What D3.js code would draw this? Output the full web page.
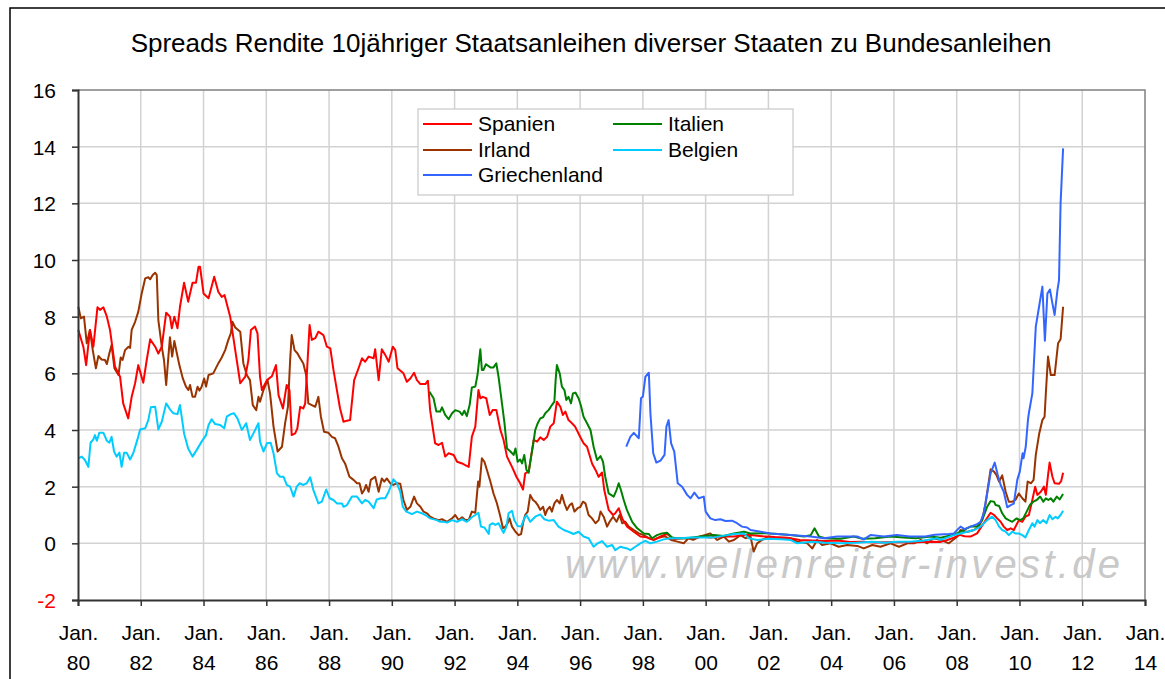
<!DOCTYPE html>
<html><head><meta charset="utf-8">
<script src="https://cdn.jsdelivr.net/npm/d3@7"></script>
<style>body{margin:0;background:#fff} svg{display:block} text{font-family:"Liberation Sans",Arial,sans-serif}</style>
</head><body><svg id="c" width="1165" height="679"></svg>
<script>
const title = "Spreads Rendite 10jähriger Staatsanleihen diverser Staaten zu Bundesanleihen";
const watermark = "www.wellenreiter-invest.de";
const yTickValues = [-2,0,2,4,6,8,10,12,14,16];
const xTickYears = [1980,1982,1984,1986,1988,1990,1992,1994,1996,1998,2000,2002,2004,2006,2008,2010,2012,2014];
const xTickLabels = ["80","82","84","86","88","90","92","94","96","98","00","02","04","06","08","10","12","14"];
const seriesNames = ["Spanien","Italien","Irland","Belgien","Griechenland"];
const seriesColors = ["#ff0000","#008000","#993300","#00ccff","#3366ff"];

// [decimal year, spread in %-points]
const spanien = [[1980.01,7.53],[1980.17,6.94],[1980.26,6.29],[1980.38,7.53],[1980.49,6.94],[1980.62,8.33],[1980.70,8.24],[1980.81,8.33],[1980.92,8.0],[1981.02,7.53],[1981.18,6.23],[1981.34,5.88],[1981.44,4.94],[1981.60,4.41],[1981.71,5.17],[1981.82,5.65],[1981.92,6.29],[1982.08,5.67],[1982.19,6.47],[1982.30,7.2],[1982.46,6.94],[1982.56,6.7],[1982.67,6.94],[1982.81,8.14],[1982.93,8.0],[1982.99,7.59],[1983.07,8.0],[1983.17,7.59],[1983.25,8.35],[1983.38,9.2],[1983.51,8.53],[1983.65,9.2],[1983.76,9.2],[1983.84,9.76],[1983.89,9.76],[1984.0,8.82],[1984.16,8.65],[1984.34,9.41],[1984.47,8.88],[1984.58,8.7],[1984.67,8.76],[1984.85,8.0],[1985.01,6.82],[1985.17,5.65],[1985.33,5.88],[1985.43,6.47],[1985.51,7.53],[1985.64,7.65],[1985.72,7.41],[1985.80,5.88],[1985.86,5.41],[1986.02,5.76],[1986.18,5.9],[1986.31,6.29],[1986.39,5.23],[1986.53,4.76],[1986.65,5.59],[1986.74,5.4],[1986.81,3.82],[1986.92,3.88],[1986.99,4.06],[1987.08,4.82],[1987.18,4.76],[1987.24,4.94],[1987.38,7.71],[1987.45,7.18],[1987.56,7.24],[1987.66,7.47],[1987.82,7.35],[1987.93,6.94],[1988.04,6.88],[1988.14,6.12],[1988.25,5.41],[1988.35,4.76],[1988.46,4.29],[1988.57,4.33],[1988.67,4.35],[1988.80,5.76],[1988.94,6.18],[1989.05,6.53],[1989.15,6.41],[1989.26,6.59],[1989.42,6.53],[1989.47,6.85],[1989.58,5.76],[1989.68,6.85],[1989.79,6.65],[1989.90,6.41],[1990.03,6.94],[1990.11,6.82],[1990.18,6.18],[1990.37,6.0],[1990.48,5.7],[1990.59,5.82],[1990.71,6.02],[1990.80,5.76],[1990.91,5.62],[1991.07,5.62],[1991.15,5.74],[1991.22,4.7],[1991.38,3.53],[1991.49,3.47],[1991.60,3.55],[1991.70,3.06],[1991.81,3.18],[1991.97,3.12],[1992.08,2.88],[1992.24,2.82],[1992.34,2.76],[1992.45,2.7],[1992.55,3.76],[1992.66,4.12],[1992.76,5.41],[1992.82,5.12],[1992.90,5.17],[1993.01,5.12],[1993.12,4.53],[1993.22,4.71],[1993.33,4.71],[1993.46,4.0],[1993.56,3.65],[1993.67,3.06],[1993.83,2.7],[1993.97,2.35],[1994.09,2.12],[1994.18,1.9],[1994.25,2.47],[1994.36,2.53],[1994.47,3.29],[1994.52,3.65],[1994.63,3.59],[1994.73,3.74],[1994.84,3.65],[1994.95,3.76],[1995.05,4.12],[1995.16,4.24],[1995.26,5.0],[1995.37,4.82],[1995.45,4.53],[1995.53,4.65],[1995.63,4.35],[1995.74,4.24],[1995.84,4.12],[1996.0,3.76],[1996.11,3.53],[1996.22,3.41],[1996.38,2.82],[1996.49,2.59],[1996.59,2.35],[1996.70,2.5],[1996.77,1.88],[1996.91,1.18],[1997.05,1.0],[1997.12,1.06],[1997.23,1.24],[1997.34,0.88],[1997.50,0.59],[1997.71,0.41],[1997.92,0.24],[1998.13,0.21],[1998.35,0.12],[1998.56,0.24],[1998.77,0.33],[1998.98,0.15],[1999.30,0.18],[1999.62,0.18],[1999.83,0.24],[2000.15,0.21],[2000.47,0.24],[2000.90,0.24],[2001.21,0.29],[2001.43,0.29],[2001.8,0.25],[2002.2,0.22],[2002.6,0.2],[2003.0,0.12],[2003.4,0.1],[2003.8,0.08],[2004.2,0.1],[2004.6,0.05],[2005.0,0.06],[2005.4,0.03],[2005.8,0.04],[2006.2,0.05],[2006.6,0.03],[2006.9,0.05],[2007.2,0.06],[2007.49,0.05],[2007.7,0.12],[2007.91,0.2],[2008.1,0.3],[2008.25,0.25],[2008.44,0.24],[2008.65,0.35],[2008.86,0.71],[2009.08,1.08],[2009.19,1.0],[2009.29,0.88],[2009.40,0.76],[2009.50,0.59],[2009.61,0.47],[2009.72,0.53],[2009.82,0.47],[2009.98,0.82],[2010.09,0.76],[2010.19,0.94],[2010.30,1.0],[2010.41,1.53],[2010.50,2.0],[2010.57,1.71],[2010.68,1.82],[2010.78,2.0],[2010.84,1.71],[2010.91,2.41],[2010.96,2.85],[2011.05,2.35],[2011.12,2.12],[2011.26,2.1],[2011.33,2.2],[2011.39,2.49]];

const italien = [[1991.20,5.35],[1991.33,5.12],[1991.42,4.65],[1991.54,4.65],[1991.60,4.8],[1991.70,4.53],[1991.81,4.38],[1991.92,4.59],[1992.02,4.7],[1992.16,4.65],[1992.24,4.53],[1992.31,4.68],[1992.39,4.49],[1992.48,4.88],[1992.55,5.5],[1992.66,5.53],[1992.73,5.94],[1992.82,6.85],[1992.87,6.12],[1992.92,6.12],[1993.0,6.32],[1993.14,6.21],[1993.24,6.21],[1993.33,6.35],[1993.40,5.88],[1993.51,4.94],[1993.59,4.24],[1993.67,3.35],[1993.78,3.24],[1993.88,3.12],[1993.94,3.35],[1994.01,2.88],[1994.09,2.96],[1994.15,2.82],[1994.22,3.12],[1994.29,2.59],[1994.36,2.49],[1994.43,3.0],[1994.50,3.47],[1994.57,4.0],[1994.65,4.24],[1994.73,4.41],[1994.82,4.45],[1994.89,4.59],[1995.0,4.71],[1995.10,4.88],[1995.18,5.0],[1995.22,5.76],[1995.26,6.29],[1995.35,6.0],[1995.42,5.53],[1995.50,5.41],[1995.56,5.06],[1995.63,5.17],[1995.71,4.94],[1995.77,5.29],[1995.85,5.32],[1995.95,5.12],[1996.02,4.88],[1996.11,4.47],[1996.22,4.24],[1996.33,4.0],[1996.43,3.41],[1996.54,2.94],[1996.65,3.08],[1996.73,2.88],[1996.80,2.35],[1996.91,1.76],[1997.07,1.65],[1997.16,1.88],[1997.23,2.12],[1997.30,1.88],[1997.39,1.53],[1997.49,1.18],[1997.66,0.76],[1997.82,0.53],[1998.03,0.35],[1998.19,0.33],[1998.29,0.18],[1998.45,0.29],[1998.61,0.35],[1998.77,0.37],[1998.93,0.21],[1999.09,0.18],[1999.41,0.18],[1999.83,0.24],[2000.26,0.29],[2000.58,0.26],[2000.90,0.35],[2001.22,0.41],[2001.43,0.35],[2001.9,0.36],[2002.3,0.33],[2002.70,0.29],[2003.13,0.24],[2003.35,0.29],[2003.47,0.53],[2003.61,0.24],[2003.81,0.18],[2004.3,0.16],[2004.72,0.24],[2005.0,0.16],[2005.4,0.18],[2005.89,0.24],[2006.3,0.21],[2006.7,0.18],[2007.17,0.24],[2007.49,0.2],[2007.91,0.3],[2008.12,0.41],[2008.44,0.59],[2008.65,0.59],[2008.81,0.82],[2008.97,1.29],[2009.08,1.49],[2009.19,1.47],[2009.24,1.35],[2009.35,1.32],[2009.45,1.06],[2009.56,0.88],[2009.66,0.82],[2009.77,0.76],[2009.91,0.88],[2010.02,0.82],[2010.12,0.88],[2010.23,1.12],[2010.33,1.35],[2010.44,1.47],[2010.55,1.53],[2010.66,1.65],[2010.76,1.47],[2010.84,1.59],[2010.92,1.53],[2011.0,1.59],[2011.08,1.47],[2011.19,1.65],[2011.28,1.55],[2011.39,1.74]];

const irland = [[1980.01,8.35],[1980.09,7.94],[1980.19,8.0],[1980.28,7.06],[1980.38,7.53],[1980.47,6.82],[1980.57,6.18],[1980.65,6.61],[1980.75,6.49],[1980.86,6.47],[1980.92,6.33],[1981.0,6.71],[1981.07,7.0],[1981.16,6.18],[1981.29,5.94],[1981.36,6.56],[1981.42,6.47],[1981.50,6.82],[1981.61,6.94],[1981.66,6.9],[1981.71,7.53],[1981.82,7.82],[1981.92,8.17],[1982.03,8.82],[1982.14,9.35],[1982.24,9.39],[1982.30,9.32],[1982.38,9.47],[1982.46,9.55],[1982.51,9.47],[1982.56,7.88],[1982.67,6.94],[1982.74,6.47],[1982.81,5.59],[1982.88,6.59],[1982.93,7.27],[1983.0,6.59],[1983.07,7.14],[1983.15,6.71],[1983.23,6.29],[1983.34,5.82],[1983.44,5.53],[1983.52,5.41],[1983.57,5.59],[1983.65,5.17],[1983.73,5.17],[1983.81,5.53],[1983.87,5.39],[1983.94,5.53],[1984.02,5.82],[1984.08,5.53],[1984.16,5.94],[1984.31,6.0],[1984.47,6.35],[1984.58,6.56],[1984.69,6.82],[1984.79,7.18],[1984.87,7.41],[1984.92,7.82],[1985.01,7.62],[1985.17,7.47],[1985.27,6.35],[1985.38,5.94],[1985.48,5.76],[1985.57,4.88],[1985.68,4.7],[1985.75,5.17],[1985.80,5.0],[1985.91,5.41],[1986.04,5.76],[1986.12,5.29],[1986.23,4.12],[1986.36,3.24],[1986.50,3.41],[1986.60,4.24],[1986.69,4.82],[1986.76,6.47],[1986.81,7.35],[1986.90,6.82],[1986.99,6.71],[1987.08,6.53],[1987.18,6.35],[1987.27,5.94],[1987.34,4.94],[1987.45,4.88],[1987.56,4.82],[1987.66,5.17],[1987.74,4.47],[1987.84,3.94],[1987.98,3.9],[1988.09,3.76],[1988.19,3.71],[1988.30,3.41],[1988.41,3.0],[1988.51,2.82],[1988.65,2.35],[1988.78,2.24],[1988.89,2.12],[1988.97,2.12],[1989.05,1.76],[1989.12,1.88],[1989.18,2.06],[1989.26,1.82],[1989.33,2.24],[1989.47,2.35],[1989.58,1.82],[1989.68,2.29],[1989.76,2.18],[1989.84,2.29],[1989.95,2.12],[1990.05,2.06],[1990.16,2.12],[1990.27,2.1],[1990.37,1.53],[1990.48,1.18],[1990.59,1.29],[1990.71,1.65],[1990.80,1.41],[1990.91,1.29],[1991.01,1.12],[1991.12,1.06],[1991.22,0.94],[1991.33,0.88],[1991.49,0.82],[1991.60,0.85],[1991.76,0.76],[1991.92,0.88],[1992.02,1.0],[1992.13,0.82],[1992.24,0.92],[1992.34,0.82],[1992.45,0.82],[1992.55,1.12],[1992.66,1.08],[1992.75,2.18],[1992.79,2.0],[1992.87,3.0],[1992.95,2.88],[1993.03,2.59],[1993.14,2.18],[1993.24,1.76],[1993.35,1.41],[1993.46,0.94],[1993.54,0.53],[1993.62,0.59],[1993.69,0.71],[1993.75,0.88],[1993.83,0.59],[1993.94,0.41],[1994.04,0.29],[1994.12,0.33],[1994.18,0.71],[1994.25,1.0],[1994.33,1.12],[1994.41,1.71],[1994.50,1.53],[1994.57,1.47],[1994.65,1.35],[1994.73,1.18],[1994.82,1.29],[1994.89,1.0],[1994.95,1.18],[1995.03,1.29],[1995.10,1.12],[1995.18,1.41],[1995.26,1.53],[1995.35,1.41],[1995.42,1.71],[1995.50,1.41],[1995.58,1.18],[1995.67,1.35],[1995.74,1.41],[1995.82,1.12],[1995.92,1.24],[1996.01,1.29],[1996.09,1.47],[1996.17,1.41],[1996.27,1.0],[1996.38,0.88],[1996.49,0.71],[1996.59,0.82],[1996.65,1.12],[1996.75,0.94],[1996.86,0.59],[1996.94,0.76],[1997.05,0.94],[1997.16,0.76],[1997.26,1.0],[1997.34,0.71],[1997.44,0.76],[1997.55,0.59],[1997.71,0.47],[1997.87,0.35],[1998.03,0.29],[1998.19,0.18],[1998.35,0.12],[1998.5,0.2],[1998.7,0.25],[1998.9,0.12],[1999.1,0.06],[1999.3,0.0],[1999.45,0.18],[1999.6,0.12],[1999.83,0.24],[2000.15,0.35],[2000.37,0.12],[2000.58,0.24],[2000.74,0.06],[2000.90,0.12],[2001.11,0.29],[2001.27,0.18],[2001.43,0.24],[2001.53,-0.29],[2001.64,0.0],[2001.80,0.12],[2002.01,0.24],[2002.28,0.18],[2002.70,0.18],[2002.92,0.06],[2003.24,0.0],[2003.40,-0.18],[2003.55,0.12],[2003.71,-0.06],[2003.98,0.0],[2004.24,-0.12],[2004.51,-0.06],[2004.83,-0.09],[2005.04,-0.18],[2005.31,-0.06],[2005.57,-0.12],[2005.89,0.0],[2006.16,-0.12],[2006.43,0.0],[2006.64,0.0],[2006.85,0.12],[2007.06,0.0],[2007.27,0.18],[2007.49,0.12],[2007.75,0.0],[2008.02,0.24],[2008.12,0.47],[2008.33,0.4],[2008.55,0.47],[2008.70,0.59],[2008.81,0.82],[2008.92,1.41],[2009.08,2.61],[2009.19,2.53],[2009.27,2.41],[2009.35,2.18],[2009.45,2.4],[2009.56,1.82],[2009.66,1.47],[2009.77,1.47],[2009.87,1.53],[2009.98,1.76],[2010.09,1.59],[2010.19,1.47],[2010.26,2.18],[2010.37,2.12],[2010.45,2.24],[2010.52,3.12],[2010.63,3.88],[2010.73,4.35],[2010.80,4.47],[2010.84,5.29],[2010.91,6.59],[2011.0,5.94],[2011.12,5.94],[2011.23,7.06],[2011.31,7.2],[2011.39,8.35]];

const belgien = [[1980.01,3.0],[1980.12,3.06],[1980.22,2.94],[1980.33,2.7],[1980.40,3.55],[1980.49,3.67],[1980.54,3.82],[1980.60,3.62],[1980.68,3.9],[1980.81,3.9],[1980.92,3.62],[1981.0,3.55],[1981.07,3.76],[1981.15,3.24],[1981.23,3.06],[1981.32,3.2],[1981.39,2.7],[1981.47,3.2],[1981.55,3.2],[1981.66,2.96],[1981.76,3.18],[1981.89,3.65],[1981.98,4.02],[1982.14,4.06],[1982.24,4.35],[1982.32,4.8],[1982.46,4.82],[1982.56,4.02],[1982.67,4.29],[1982.81,4.94],[1982.93,4.73],[1983.04,4.59],[1983.17,4.56],[1983.25,4.88],[1983.38,3.88],[1983.51,3.35],[1983.65,3.06],[1983.78,3.29],[1983.94,3.59],[1984.08,3.82],[1984.16,4.18],[1984.26,4.38],[1984.37,4.21],[1984.53,4.18],[1984.66,4.06],[1984.74,4.47],[1984.87,4.56],[1984.97,4.59],[1985.08,4.41],[1985.22,4.0],[1985.36,4.24],[1985.48,3.65],[1985.59,3.88],[1985.75,4.24],[1985.80,3.59],[1985.91,3.24],[1986.02,3.53],[1986.14,3.55],[1986.23,3.18],[1986.34,2.47],[1986.44,2.35],[1986.55,2.35],[1986.65,2.06],[1986.76,2.0],[1986.87,1.65],[1986.97,2.0],[1987.06,2.12],[1987.18,2.06],[1987.29,2.12],[1987.40,2.33],[1987.50,1.88],[1987.66,1.41],[1987.77,1.47],[1987.91,1.9],[1988.02,1.59],[1988.14,1.53],[1988.25,1.41],[1988.41,1.41],[1988.46,1.29],[1988.57,1.35],[1988.73,1.65],[1988.89,1.65],[1989.05,1.41],[1989.15,1.53],[1989.26,1.47],[1989.42,1.24],[1989.52,1.55],[1989.65,1.59],[1989.79,1.59],[1989.90,1.82],[1990.05,2.26],[1990.16,2.12],[1990.27,1.82],[1990.35,1.29],[1990.46,1.12],[1990.59,1.06],[1990.64,1.03],[1990.80,1.12],[1990.96,1.06],[1991.07,1.0],[1991.22,0.88],[1991.43,0.82],[1991.54,0.76],[1991.65,0.76],[1991.76,0.73],[1991.92,0.82],[1992.08,0.76],[1992.24,0.85],[1992.39,0.76],[1992.55,0.92],[1992.66,1.0],[1992.76,1.08],[1992.84,0.59],[1992.95,0.56],[1993.09,0.33],[1993.12,0.65],[1993.22,0.71],[1993.30,0.65],[1993.40,0.71],[1993.51,0.47],[1993.56,0.37],[1993.65,0.59],[1993.72,1.06],[1993.83,1.15],[1993.90,0.82],[1994.01,0.61],[1994.12,0.59],[1994.22,0.88],[1994.29,1.0],[1994.41,0.76],[1994.57,0.94],[1994.73,1.02],[1994.86,0.85],[1994.99,0.8],[1995.16,0.82],[1995.31,0.59],[1995.48,0.47],[1995.63,0.41],[1995.79,0.33],[1995.95,0.41],[1996.11,0.24],[1996.27,0.18],[1996.43,-0.12],[1996.56,0.0],[1996.70,0.08],[1996.86,-0.12],[1997.02,-0.06],[1997.12,-0.24],[1997.28,-0.12],[1997.50,-0.18],[1997.60,-0.24],[1997.76,-0.12],[1997.92,0.0],[1998.08,0.09],[1998.24,0.0],[1998.45,0.06],[1998.66,0.14],[1998.88,0.18],[1999.20,0.18],[1999.52,0.21],[1999.83,0.21],[2000.26,0.21],[2000.68,0.29],[2000.90,0.33],[2001.22,0.35],[2001.37,0.18],[2001.64,0.12],[2002.0,0.16],[2002.4,0.14],[2002.70,0.12],[2002.92,0.0],[2003.4,0.06],[2003.8,0.02],[2004.3,0.0],[2004.8,0.02],[2005.3,0.06],[2005.7,0.02],[2006.1,0.06],[2006.5,0.06],[2006.9,0.09],[2007.38,0.18],[2007.49,0.12],[2007.91,0.29],[2008.12,0.35],[2008.55,0.47],[2008.76,0.59],[2008.97,0.82],[2009.13,0.94],[2009.24,0.82],[2009.35,0.59],[2009.45,0.47],[2009.56,0.41],[2009.66,0.29],[2009.77,0.41],[2009.87,0.35],[2009.98,0.35],[2010.09,0.29],[2010.19,0.21],[2010.30,0.47],[2010.41,0.71],[2010.48,0.59],[2010.57,0.82],[2010.65,0.71],[2010.76,0.82],[2010.86,0.71],[2010.96,1.0],[2011.05,0.85],[2011.15,0.94],[2011.22,0.88],[2011.31,1.0],[2011.39,1.15]];

const griechenland = [[1997.47,3.41],[1997.60,3.76],[1997.71,3.9],[1997.87,3.71],[1997.94,5.12],[1998.0,5.18],[1998.08,5.88],[1998.19,6.02],[1998.24,4.59],[1998.33,3.18],[1998.43,2.85],[1998.56,2.92],[1998.69,3.12],[1998.75,4.12],[1998.82,4.35],[1998.90,3.53],[1999.0,3.24],[1999.11,2.12],[1999.25,2.0],[1999.41,1.71],[1999.52,1.59],[1999.64,1.79],[1999.78,1.59],[1999.94,1.65],[2000.0,1.12],[2000.15,0.88],[2000.31,0.82],[2000.47,0.85],[2000.63,0.79],[2000.84,0.8],[2001.0,0.71],[2001.16,0.59],[2001.32,0.56],[2001.43,0.47],[2001.75,0.41],[2002.07,0.35],[2002.70,0.29],[2003.34,0.24],[2003.77,0.18],[2004.19,0.24],[2004.83,0.24],[2005.04,0.14],[2005.25,0.29],[2005.68,0.24],[2006.09,0.29],[2006.5,0.24],[2007.0,0.24],[2007.3,0.3],[2007.75,0.33],[2007.91,0.35],[2008.12,0.59],[2008.25,0.5],[2008.44,0.59],[2008.65,0.68],[2008.76,0.76],[2008.86,1.06],[2008.97,1.76],[2009.08,2.47],[2009.21,2.85],[2009.31,2.41],[2009.40,2.06],[2009.50,1.82],[2009.61,1.27],[2009.72,1.35],[2009.82,1.4],[2009.93,2.24],[2010.01,2.53],[2010.10,3.18],[2010.13,3.0],[2010.20,3.41],[2010.27,4.35],[2010.30,4.6],[2010.41,5.29],[2010.52,7.65],[2010.59,8.12],[2010.73,9.06],[2010.81,7.15],[2010.89,8.82],[2010.97,8.96],[2011.05,8.47],[2011.12,8.06],[2011.21,8.94],[2011.26,9.29],[2011.31,12.0],[2011.39,13.94]];

const seriesData = [spanien, italien, irland, belgien, griechenland];

const W = 1165, H = 679;
const P = {l: 78, r: 1145, t: 90, b: 600};
const svg = d3.select('#c');
svg.append('rect').attr('width', W).attr('height', H).attr('fill', '#fff');
svg.append('rect').attr('x', 10).attr('y', 8).attr('width', 1300).attr('height', 900)
  .attr('fill', 'none').attr('stroke', '#000').attr('stroke-width', 1.5);

const x = d3.scaleLinear().domain([1980, 2014]).range([P.l, P.r]);
const y = d3.scaleLinear().domain([-2, 16]).range([P.b, P.t]);

// grid
const grid = svg.append('g');
grid.selectAll('line.h').data(yTickValues.filter(v => v > -2 && v < 16)).join('line')
  .attr('x1', P.l).attr('x2', P.r).attr('y1', d => y(d)).attr('y2', d => y(d))
  .attr('stroke', '#d2d2d2').attr('stroke-width', 1.5);
grid.selectAll('line.v').data(xTickYears.filter(v => v > 1980 && v < 2014)).join('line')
  .attr('y1', P.t).attr('y2', P.b).attr('x1', d => x(d)).attr('x2', d => x(d))
  .attr('stroke', '#d2d2d2').attr('stroke-width', 1.5);
// top & right border
svg.append('path').attr('d', `M${P.l},${P.t}H${P.r}V${P.b}`).attr('fill', 'none')
  .attr('stroke', '#808080').attr('stroke-width', 1.5);

// watermark
svg.append('text').attr('x', 565).attr('y', 578).text(watermark)
  .attr('font-size', 40).attr('font-style', 'italic').attr('fill', '#c9c9c9')
  .attr('textLength', 555).attr('lengthAdjust', 'spacing');

// lines
const line = d3.line().x(d => x(d[0])).y(d => y(d[1]));
const order = [2, 0, 1, 3, 4];
svg.append('g').selectAll('path').data(order).join('path')
  .attr('d', i => line(seriesData[i])).attr('fill', 'none')
  .attr('stroke', i => seriesColors[i]).attr('stroke-width', 2)
  .attr('stroke-linejoin', 'round');

// axes
const yAxis = d3.axisLeft(y).tickValues(yTickValues).tickSize(6).tickFormat(d => String(d));
const ya = svg.append('g').attr('transform', `translate(${P.l},0)`).call(yAxis);
ya.select('.domain').attr('stroke', '#333').attr('stroke-width', 2);
ya.selectAll('.tick line').attr('stroke', '#333').attr('stroke-width', 1.5);
ya.selectAll('.tick text').attr('font-size', 21).attr('x', -22).attr('dy', '0.35em')
  .attr('font-family', '"Liberation Sans", Arial, sans-serif')
  .attr('fill', d => d < 0 ? '#ff0000' : '#000');

const xAxis = d3.axisBottom(x).tickValues(xTickYears).tickSize(6).tickFormat('');
const xa = svg.append('g').attr('transform', `translate(0,${P.b})`).call(xAxis);
xa.select('.domain').attr('stroke', '#333').attr('stroke-width', 2);
xa.selectAll('.tick line').attr('stroke', '#333').attr('stroke-width', 1.5);
xa.selectAll('.tick').each(function(d, i) {
  const g = d3.select(this);
  g.append('text').attr('y', 40).attr('text-anchor', 'middle').attr('fill', '#000')
    .attr('font-size', 21).attr('font-family', '"Liberation Sans", Arial, sans-serif').text('Jan.');
  g.append('text').attr('y', 70).attr('text-anchor', 'middle').attr('fill', '#000')
    .attr('font-size', 21).attr('font-family', '"Liberation Sans", Arial, sans-serif').text(xTickLabels[i]);
});

// title
svg.append('text').attr('x', 591).attr('y', 52).attr('text-anchor', 'middle')
  .attr('font-size', 26).attr('fill', '#000').text(title);

// legend
const lg = svg.append('g');
lg.append('rect').attr('x', 418).attr('y', 109).attr('width', 375).attr('height', 86)
  .attr('fill', '#fff').attr('stroke', '#c8c8c8').attr('stroke-width', 1.2);
const legendPos = [[423,124],[613,124],[423,150],[613,150],[423,175]];
seriesNames.forEach((n, i) => {
  const [lx, ly] = legendPos[i];
  lg.append('line').attr('x1', lx).attr('x2', lx + 49).attr('y1', ly).attr('y2', ly)
    .attr('stroke', seriesColors[i]).attr('stroke-width', 2);
  lg.append('text').attr('x', lx + 55).attr('y', ly + 7).attr('font-size', 21)
    .attr('fill', '#000').text(n);
});
</script></body></html>
